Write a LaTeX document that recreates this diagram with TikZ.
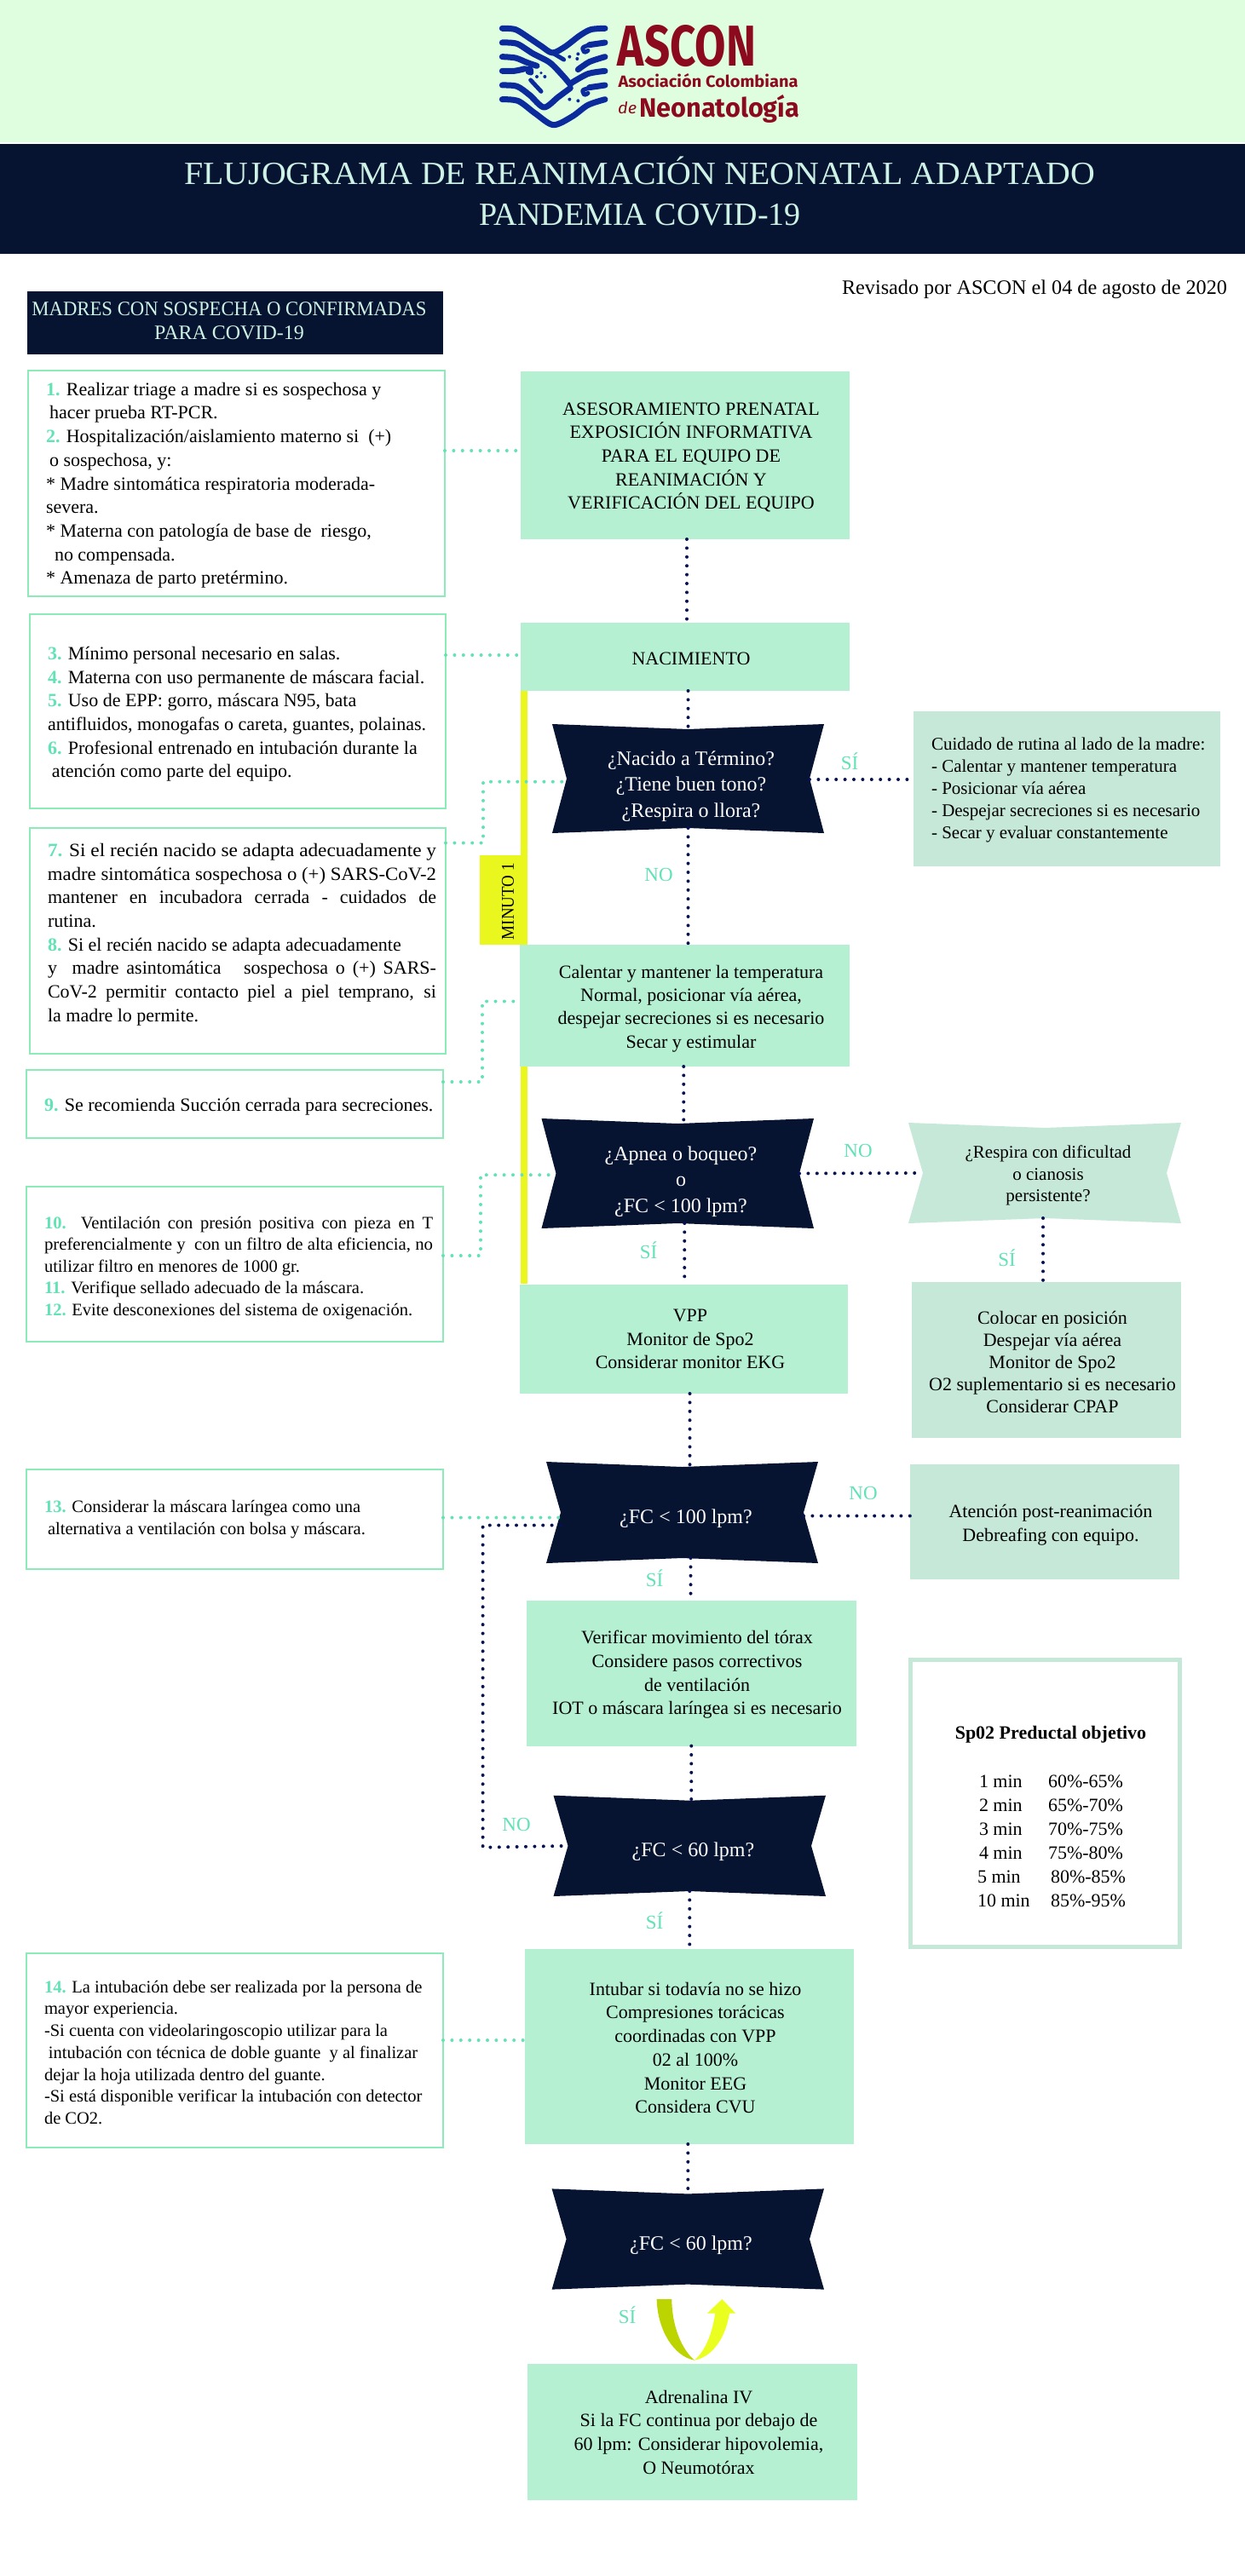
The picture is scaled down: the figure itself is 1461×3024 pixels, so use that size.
\documentclass[tikz,border=0pt]{standalone}
\usepackage{fontspec}
\usepackage{graphicx}
\usetikzlibrary{calc}
\setmainfont{Liberation Serif}
\newfontfamily\logof{Fira Sans}
\definecolor{hdr}{HTML}{DFFEDF}
\definecolor{navy}{HTML}{061431}
\definecolor{gbox}{HTML}{B5F0D2}
\definecolor{lbox}{HTML}{C6E8D8}
\definecolor{teal}{HTML}{62E3B5}
\definecolor{edge}{HTML}{8CEBB8}
\definecolor{ylw}{HTML}{E9F71F}
\definecolor{olive}{HTML}{BCD500}
\definecolor{ylw2}{HTML}{EAFF1F}
\definecolor{logoblue}{HTML}{0B2A9B}
\definecolor{logored}{HTML}{8B0A1E}
\definecolor{titlec}{HTML}{CFF2E6}
\newcommand{\nm}[1]{\textcolor{teal}{\bfseries #1}}
\newcommand{\fitw}[2]{\resizebox{#1pt}{\height}{#2}}
\newcommand{\rn}[6]{\node[#2,minimum width={(#5-#3)*1pt},minimum height={(#6-#4)*1pt}] (#1) at ({(#3+#5)/2},{(#4+#6)/2}) {};}
\newcommand{\dcs}[6]{%
  \fill[#6] (#2,#3) -- ({(#2+#4)/2},{#3+6}) -- (#4,#3) -- ({#4-17},{(#3+#5)/2}) -- (#4,#5) -- ({(#2+#4)/2},{#5-6}) -- (#2,#5) -- ({#2+17},{(#3+#5)/2}) -- cycle;
  \node[inner sep=0pt,outer sep=0pt,minimum width={(#4-#2-34)*1pt},minimum height={(#5-#3-12)*1pt}] (#1) at ({(#2+#4)/2},{(#3+#5)/2}) {};}
\tikzset{
  solidg/.style={fill=gbox,inner sep=0pt,outer sep=0pt},
  solidl/.style={fill=lbox,inner sep=0pt,outer sep=0pt},
  notebox/.style={draw=edge,line width=2pt,fill=white,inner sep=0pt,outer sep=0pt},
  band/.style={fill=navy,inner sep=0pt,outer sep=0pt},
  head/.style={fill=hdr,inner sep=0pt,outer sep=0pt},
  ybar/.style={fill=ylw,inner sep=0pt,outer sep=0pt},
  spobox/.style={draw=lbox,line width=5pt,fill=white,inner sep=0pt,outer sep=0pt},
  nd/.style={draw=navy!85!blue,line width=4pt,line cap=round,dash pattern=on 0pt off 10.4pt},
  gd/.style={draw=teal,line width=4pt,line cap=round,dash pattern=on 0pt off 10.4pt},
  body/.style={inner sep=0pt,outer sep=0pt,align=left,anchor=north west,text=black,font=\fontsize{22}{27.7}\selectfont},
  bodyc/.style={inner sep=0pt,outer sep=0pt,align=center,text=black,font=\fontsize{22}{27.7}\selectfont},
  dectext/.style={inner sep=0pt,outer sep=0pt,align=center,text=white,font=\fontsize{24}{30.3}\selectfont},
  lab/.style={inner sep=0pt,outer sep=0pt,text=teal,font=\fontsize{23}{27}\selectfont},
  wave/.style={draw=logoblue,line width=7pt,line cap=round,line join=round},
  wavet/.style={draw=logoblue,line width=5pt,line cap=round,line join=round},
}
\begin{document}
\begin{tikzpicture}[x=1pt,y=-1pt]
\useasboundingbox (0,0) rectangle (1461,3024);
\fill[white] (0,0) rectangle (1461,3024);
% header
\rn{hdrbg}{head}{0}{0}{1461}{167}
\rn{titleband}{band}{0}{169}{1461}{298}
\node[inner sep=0pt,text=titlec,align=center,font=\fontsize{38}{49}\selectfont] (title) at (751,224) {\fitw{1069}{FLUJOGRAMA DE REANIMACIÓN NEONATAL ADAPTADO}\\[-1pt]PANDEMIA COVID-19};
% logo
\begin{scope}[shift={(580,20)},x=0.3333pt,y=-0.3333pt]
\draw[wave] plot[smooth] coordinates {(28,40)(75,44)(125,75)(165,102)(205,126)(250,104)(300,66)(340,44)(390,40)};
\draw[wave] plot[smooth] coordinates {(28,90)(80,94)(135,128)(195,160)(240,205)(268,238)};
\draw[wave] plot[smooth] coordinates {(28,140)(75,144)(115,160)(150,172)};
\draw[wave] plot[smooth] coordinates {(28,190)(70,190)(108,182)};
\draw[wave] plot[smooth] coordinates {(28,240)(80,244)(125,275)(175,318)(225,282)(268,250)};
\draw[wave] plot[smooth] coordinates {(28,290)(85,296)(145,340)(208,380)(275,350)(330,310)(390,290)};
\draw[wave] plot[smooth] coordinates {(335,98)(390,90)};
\draw[wave] plot[smooth] coordinates {(295,185)(335,158)(390,140)};
\draw[wave] plot[smooth] coordinates {(272,232)(330,200)(390,190)};
\draw[wave] plot[smooth] coordinates {(335,248)(390,240)};
\draw[wavet] plot[smooth] coordinates {(205,126)(245,150)};
\draw[wavet] plot[smooth] coordinates {(128,222)(165,262)};
\draw[wavet] plot[smooth] coordinates {(335,98)(312,108)(318,124)(330,118)};
\draw[wavet] plot[smooth] coordinates {(335,250)(312,258)(318,274)(330,268)};
\draw[wavet] plot[smooth] coordinates {(108,182)(128,182)(130,198)(118,194)};
\fill[logoblue] (265,140) circle (6) (295,130) circle (6) (292,147) circle (6) (150,210) circle (6) (178,210) circle (6) (165,197) circle (5) (265,290) circle (6) (295,295) circle (6);
\end{scope}
\node[inner sep=0pt,text=logored] (logo1) at (806,54) {\resizebox{162pt}{48pt}{\logof\bfseries ASCON}};
\node[inner sep=0pt,text=logored] (logo2) at (831,95) {\resizebox{211pt}{16pt}{\logof\bfseries Asociación Colombiana}};
\node[inner sep=0pt,text=logored,anchor=west] (logo3) at (725,127) {\resizebox{22pt}{14pt}{\logof\itshape de}};
\node[inner sep=0pt,text=logored,anchor=west] (logo4) at (750,128) {\resizebox*{188pt}{33pt}{\logof\bfseries Neonatología}};
% revisado and header box
\node[inner sep=0pt,text=black,font=\fontsize{24}{28}\selectfont] (rev) at (1214,340) {\fitw{452}{Revisado por ASCON el 04 de agosto de 2020}};
\rn{madres}{band}{32}{342}{520}{416}
\node[inner sep=0pt,text=titlec,align=center,font=\fontsize{24}{28}\selectfont] (madrest) at (269,377) {\fitw{463}{MADRES CON SOSPECHA O CONFIRMADAS}\\PARA COVID-19};
% yellow
\rn{y1}{ybar}{611}{811}{619}{1109}
\rn{y2}{ybar}{611}{1252}{619}{1507}
\rn{min}{ybar}{563}{1004}{619}{1109}
\node[inner sep=0pt,rotate=90,text=black,font=\fontsize{21}{24}\selectfont] (mint) at (596,1058) {\fitw{90}{MINUTO 1}};
% flow boxes
\rn{ases}{solidg}{611}{436}{997}{633}
\rn{nac}{solidg}{611}{731}{997}{811}
\rn{cal}{solidg}{609.5}{1109}{997}{1252}
\rn{vpp}{solidg}{609.5}{1507.5}{995}{1636}
\rn{ver}{solidg}{618}{1879}{1004.5}{2049.6}
\rn{intu}{solidg}{616}{2288}{1002}{2517}
\rn{adr}{solidg}{619}{2775}{1006}{2935}
\rn{cuid}{solidl}{1072}{835}{1432}{1017}
\rn{colo}{solidl}{1070}{1505}{1386}{1688}
\rn{aten}{solidl}{1068}{1719}{1384}{1854}
\rn{spo}{spobox}{1068.5}{1948.5}{1384}{2285.5}
% notes
\rn{b1}{notebox}{33}{435}{522}{700}
\rn{b2}{notebox}{34.5}{721}{523}{949}
\rn{b3}{notebox}{34.5}{972}{523}{1236.5}
\rn{b4}{notebox}{31}{1256}{520}{1336}
\rn{b5}{notebox}{31}{1393}{520}{1575}
\rn{b6}{notebox}{31}{1725}{520}{1842}
\rn{b7}{notebox}{31}{2293}{520}{2521}
% decisions
\dcs{d1}{648}{850}{967}{978}{navy}
\dcs{d2}{635.5}{1313}{955}{1442}{navy}
\dcs{d3}{1066}{1318}{1386}{1436}{lbox}
\dcs{d4}{641}{1716}{960}{1835}{navy}
\dcs{d5}{649.5}{2107.7}{969}{2226}{navy}
\dcs{d6}{647.6}{2569.4}{967}{2687.6}{navy}
% navy connectors
\draw[nd] ([xshift=2pt]ases.south) -- ([xshift=2pt]nac.north);
\draw[nd] (d1.north |- nac.south) -- (d1.north);
\draw[nd] (d1.south) -- (d1.south |- cal.north);
\draw[nd] ([xshift=7pt]d2.north |- cal.south) -- ([xshift=7pt]d2.north);
\draw[nd] ([xshift=8pt]d2.south) -- ([xshift=8pt]d2.south |- vpp.north);
\draw[nd] ([yshift=-1pt]d1.east) -- ([yshift=-1pt]cuid.west |- d1.east);
\draw[nd] (d2.east) -- (d3.west);
\draw[nd] ([xshift=-2pt]d3.south) -- ([xshift=-2pt]d3.south |- colo.north);
\draw[nd] ([xshift=9pt]d4.north |- vpp.south) -- ([xshift=9pt]d4.north);
\draw[nd] ([yshift=-4pt]d4.east) -- ([yshift=-4pt]aten.west |- d4.east);
\draw[nd] ([xshift=10pt]d4.south) -- ([xshift=10pt]d4.south |- ver.north);
\draw[nd] ([xshift=2pt]d5.north |- ver.south) -- ([xshift=2pt]d5.north);
\draw[nd] (d5.south) -- (d5.south |- intu.north);
\draw[nd] (d6.north |- intu.south) -- (d6.north);
\coordinate (cnr) at (566.6,2168.7);
\draw[nd] ([yshift=-15pt]d4.west) -| (cnr) -- (d5.west);
% green connectors
\draw[gd] ([yshift=-94pt]b1.north east) -- ([yshift=5.5pt]ases.west);
\draw[gd] ([yshift=2pt]b2.east |- nac.west) -- ([yshift=2pt]nac.west);
\draw[gd] ([yshift=-17.5pt]b3.north east) -- ++(44,0) |- ([yshift=-3.7pt]d1.west);
\draw[gd] ([yshift=-14pt]b4.north east) -- ++(46,0) |- ([yshift=5pt]cal.west);
\draw[gd] ([yshift=-81pt]b5.north east) -- ++(44,0) |- ([yshift=-1.7pt]d2.west);
\draw[gd] ([yshift=-56.5pt]b6.north east) -- ([yshift=-6pt]d4.west);
\draw[gd] ([yshift=12pt]b7.east) -- ([yshift=7.5pt]intu.west);
% labels
\node[lab] (l1) at (997,894) {SÍ};
\node[lab] (l2) at (773,1027) {NO};
\node[lab] (l3) at (1007,1350.6) {NO};
\node[lab] (l4) at (761,1468) {SÍ};
\node[lab] (l5) at (1181.6,1477) {SÍ};
\node[lab] (l6) at (1013,1753) {NO};
\node[lab] (l7) at (768,1853) {SÍ};
\node[lab] (l8) at (606,2141.7) {NO};
\node[lab] (l9) at (768,2254.5) {SÍ};
\node[lab] (l10) at (736,2717.5) {SÍ};
% main box texts
\node[bodyc] (t1) at (811,537) {ASESORAMIENTO PRENATAL\\EXPOSICIÓN INFORMATIVA\\PARA EL EQUIPO DE\\REANIMACIÓN Y\\VERIFICACIÓN DEL EQUIPO};
\node[bodyc] (t2) at (811,773) {NACIMIENTO};
\node[bodyc,font=\fontsize{22}{27.3}\selectfont] (t3) at (811,1184) {Calentar y mantener la temperatura\\Normal, posicionar vía aérea,\\despejar secreciones si es necesario\\Secar y estimular};
\node[bodyc] (t4) at (810,1572) {VPP\\Monitor de Spo2\\Considerar monitor EKG};
\node[bodyc] (t5) at (818,1966) {Verificar movimiento del tórax\\Considere pasos correctivos\\de ventilación\\IOT o máscara laríngea si es necesario};
\node[bodyc] (t6) at (816,2404) {Intubar si todavía no se hizo\\Compresiones torácicas\\coordinadas con VPP\\02 al 100\%\\Monitor EEG\\Considera CVU};
\node[bodyc] (t7) at (820,2855) {Adrenalina IV\\Si la FC continua por debajo de\\60 lpm: Considerar hipovolemia,\\O Neumotórax};
\node[body,font=\fontsize{21}{26}\selectfont] (t8) at (1093,866) {Cuidado de rutina al lado de la madre:\\- Calentar y mantener temperatura\\- Posicionar vía aérea\\- Despejar secreciones si es necesario\\- Secar y evaluar constantemente};
\node[bodyc,font=\fontsize{21}{25.5}\selectfont] (t9) at (1230,1380) {¿Respira con dificultad\\o cianosis\\persistente?};
\node[bodyc,font=\fontsize{22}{26}\selectfont] (t10) at (1235,1599) {Colocar en posición\\Despejar vía aérea\\Monitor de Spo2\\O2 suplementario si es necesario\\Considerar CPAP};
\node[bodyc,font=\fontsize{22}{28.4}\selectfont] (t11) at (1233,1790) {Atención post-reanimación\\Debreafing con equipo.};
\node[inner sep=0pt,text=black,font=\fontsize{22}{26}\bfseries\selectfont] (t12) at (1233,2036) {Sp02 Preductal objetivo};
\node[body,font=\fontsize{22}{27.9}\selectfont] (t13) at (1147,2084) {\hspace{2pt}\makebox[81pt][l]{1 min}60\%-65\%\\\hspace{2pt}\makebox[81pt][l]{2 min}65\%-70\%\\\hspace{2pt}\makebox[81pt][l]{3 min}70\%-75\%\\\hspace{2pt}\makebox[81pt][l]{4 min}75\%-80\%\\\makebox[86pt][l]{5 min}80\%-85\%\\\makebox[86pt][l]{10 min}85\%-95\%};
% decision texts
\node[dectext] (dt1) at (811,923) {¿Nacido a Término?\\¿Tiene buen tono?\\¿Respira o llora?};
\node[dectext] (dt2) at (799,1387) {¿Apnea o boqueo?\\o\\¿FC < 100 lpm?};
\node[dectext] (dt4) at (805,1783) {¿FC < 100 lpm?};
\node[dectext] (dt5) at (813.5,2173.6) {¿FC < 60 lpm?};
\node[dectext] (dt6) at (811,2636) {¿FC < 60 lpm?};
% notes text
\node[body] (n1) at (54,449) {\nm{1.} Realizar triage a madre si es sospechosa y\\\hspace{4pt}hacer prueba RT-PCR.\\\nm{2.} Hospitalización/aislamiento materno si\ \ (+)\\\hspace{4pt}o sospechosa, y:\\* Madre sintomática respiratoria moderada-\\severa.\\* Materna con patología de base de\ \ riesgo,\\\hspace{10pt}no compensada.\\* Amenaza de parto pretérmino.};
\node[body] (n2) at (56,759) {\nm{3.} Mínimo personal necesario en salas.\\\nm{4.} Materna con uso permanente de máscara facial.\\\nm{5.} Uso de EPP: gorro, máscara N95, bata\\antifluidos, monogafas o careta, guantes, polainas.\\\nm{6.} Profesional entrenado en intubación durante la\\\hspace{5pt}atención como parte del equipo.};
\node[body] (n3) at (56,990) {\fitw{456}{\nm{7.} Si el recién nacido se adapta adecuadamente y}\\\fitw{456}{madre sintomática sospechosa o (+) SARS-CoV-2}\\\makebox[456pt][s]{mantener en incubadora cerrada - cuidados de}\\rutina.\\\nm{8.} Si el recién nacido se adapta adecuadamente\\\makebox[456pt][s]{y\ \ madre asintomática\ \ \ sospechosa o (+) SARS-}\\\makebox[456pt][s]{CoV-2 permitir contacto piel a piel temprano, si}\\la madre lo permite.};
\node[body] (n4) at (52,1289) {\nm{9.} Se recomienda Succión cerrada para secreciones.};
\node[body,font=\fontsize{20.5}{25.5}\selectfont] (n5) at (52,1428) {\makebox[456pt][s]{\nm{10.} Ventilación con presión positiva con pieza en T}\\\fitw{456}{preferencialmente y\ \ con un filtro de alta eficiencia, no}\\utilizar filtro en menores de 1000 gr.\\\nm{11.} Verifique sellado adecuado de la máscara.\\\nm{12.} Evite desconexiones del sistema de oxigenación.};
\node[body,font=\fontsize{20.5}{26.4}\selectfont] (n6) at (52,1761) {\nm{13.} Considerar la máscara laríngea como una\\\hspace{4pt}alternativa a ventilación con bolsa y máscara.};
\node[body,font=\fontsize{20.5}{25.7}\selectfont] (n7) at (52,2325) {\nm{14.} La intubación debe ser realizada por la persona de\\mayor experiencia.\\-Si cuenta con videolaringoscopio utilizar para la\\\hspace{5pt}intubación con técnica de doble guante\ \ y al finalizar\\dejar la hoja utilizada dentro del guante.\\-Si está disponible verificar la intubación con detector\\de CO2.};
% curved arrow
\begin{scope}[shift={(720,2680)},x=0.3333pt,y=-0.3333pt]
\fill[olive] (152,57) -- (205,57) .. controls (205,150) and (240,235) .. (285,272) .. controls (215,260) and (155,170) .. (152,57) -- cycle;
\fill[ylw2] (285,272) .. controls (350,260) and (395,190) .. (408,107) -- (430,107) -- (382,57) -- (330,107) -- (358,107) .. controls (345,190) and (320,240) .. (285,272) -- cycle;
\end{scope}
\end{tikzpicture}
\end{document}
